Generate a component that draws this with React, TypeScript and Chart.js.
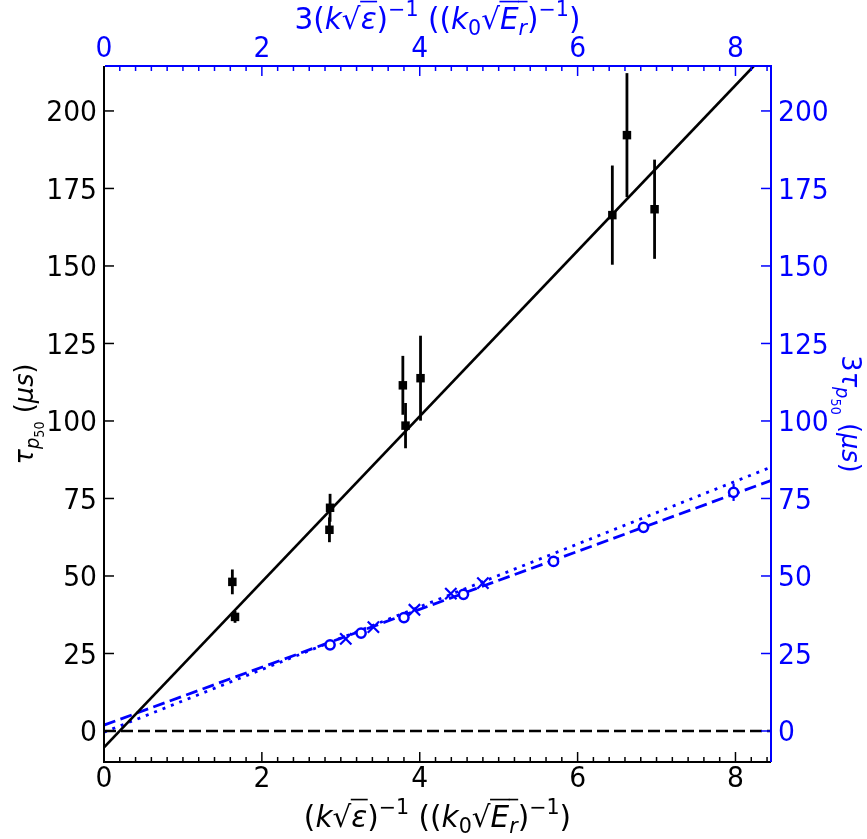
import React, { useEffect, useRef } from "react";
import { Chart, registerables } from "chart.js";

Chart.register(...registerables);

// ---- axis ranges & ticks ----
const X_MIN = 0;
const X_MAX = 8.45;
const Y_MIN = -10;
const Y_MAX = 214.5;
const xTicks = [0, 2, 4, 6, 8];
const xTickLabels = ["0", "2", "4", "6", "8"];
const xMinorStep = 0.2;
const yTicks = [0, 25, 50, 75, 100, 125, 150, 175, 200];
const yTickLabels = ["0", "25", "50", "75", "100", "125", "150", "175", "200"];

// ---- black data (bottom / left axes) ----
const blackX = [1.626, 1.66, 2.864, 2.856, 3.786, 3.82, 4.01, 6.44, 6.625, 6.975];
const blackY = [48.1, 36.8, 72.0, 64.9, 111.5, 98.5, 113.8, 166.4, 192.2, 168.3];
const blackErr = [4.0, 1.9, 4.5, 4.0, 9.5, 7.3, 13.7, 16.0, 20.0, 16.0];

// ---- blue data (top / right axes) ----
const circX = [2.864, 3.257, 3.8, 4.554, 5.695, 6.835, 7.976];
const circY = [27.8, 31.6, 36.6, 44.1, 54.7, 65.7, 77.0];
const circErr = [1.2, 1.0, 1.2, 1.2, 1.2, 1.2, 2.8];
const crossX = [3.063, 3.413, 3.933, 4.394, 4.8];
const crossY = [29.7, 33.5, 39.1, 44.3, 47.7];

// ---- fitted lines (end points) ----
const fitX = [0, 8.45];
const blackFitY = [-5.3, 220.3];
const blueDashY = [1.9, 80.8];
const blueDotY = [-0.4, 85.1];
const zeroY = [0, 0];

const BLUE = "#0000ff";
const FONT = '"DejaVu Sans", "Liberation Sans", sans-serif';
const TICK_SIZE = 28;
const TICK_SX = 0.95;
const TITLE_X_SIZE = 29.5;
const TITLE_X_SX = 1.0;
const TITLE_Y_SIZE = 27;
const TITLE_Y_SX = 0.95;

type Seg = { t: string; it?: boolean; s?: number; dy?: number; ol?: boolean };

const bottomTitle: Seg[] = [
  { t: "(" },
  { t: "k", it: true },
  { t: "√" },
  { t: "ε", it: true, ol: true },
  { t: ")" },
  { t: "−1", s: 0.7, dy: 0.45 },
  { t: " ((" },
  { t: "k", it: true },
  { t: "0", s: 0.7, dy: -0.2 },
  { t: "√" },
  { t: "E", it: true, ol: true },
  { t: "r", it: true, s: 0.7, dy: -0.2, ol: true },
  { t: ")" },
  { t: "−1", s: 0.7, dy: 0.45 },
  { t: ")" },
];
const topTitle: Seg[] = [{ t: "3" }, ...bottomTitle];
const leftTitle: Seg[] = [
  { t: "τ", it: true },
  { t: "p", it: true, s: 0.7, dy: -0.22 },
  { t: "50", s: 0.5, dy: -0.42 },
  { t: " (" },
  { t: "μs", it: true },
  { t: ")" },
];
const rightTitle: Seg[] = [{ t: "3" }, ...leftTitle];

function segFont(s: Seg, base: number) {
  const size = base * (s.s ?? 1);
  return `${s.it ? "italic " : ""}${size}px ${FONT}`;
}

function drawRich(
  ctx: CanvasRenderingContext2D,
  segs: Seg[],
  base: number,
  sxScale: number,
  cx: number,
  cy: number,
  angle: number,
  color: string
) {
  ctx.save();
  ctx.translate(cx, cy);
  ctx.rotate(angle);
  ctx.scale(sxScale, 1);
  ctx.textAlign = "left";
  ctx.textBaseline = "alphabetic";
  ctx.fillStyle = color;
  ctx.strokeStyle = color;
  let total = 0;
  const widths = segs.map((s) => {
    ctx.font = segFont(s, base);
    const w = ctx.measureText(s.t).width;
    total += w;
    return w;
  });
  let x = -total / 2;
  segs.forEach((s, i) => {
    ctx.font = segFont(s, base);
    const y = -(s.dy ?? 0) * base;
    ctx.fillText(s.t, x, y);
    if (s.ol) {
      ctx.lineWidth = base * 0.055;
      ctx.beginPath();
      ctx.moveTo(x - 0.5, -base * 0.93);
      ctx.lineTo(x + widths[i] + 0.5, -base * 0.93);
      ctx.stroke();
    }
    x += widths[i];
  });
  ctx.restore();
}

function drawLabel(
  ctx: CanvasRenderingContext2D,
  t: string,
  x: number,
  y: number,
  align: CanvasTextAlign,
  color: string
) {
  ctx.save();
  ctx.translate(x, y);
  ctx.scale(TICK_SX, 1);
  ctx.font = `${TICK_SIZE}px ${FONT}`;
  ctx.textAlign = align;
  ctx.textBaseline = "alphabetic";
  ctx.fillStyle = color;
  ctx.fillText(t, 0, 0);
  ctx.restore();
}

const decorPlugin = {
  id: "decor",
  beforeDatasetsDraw(chart: any) {
    const ctx: CanvasRenderingContext2D = chart.ctx;
    const a = chart.chartArea;
    const sx = chart.scales.x;
    const sy = chart.scales.y;
    const sx2 = chart.scales.x2;
    const sy2 = chart.scales.y2;
    ctx.save();
    ctx.beginPath();
    ctx.rect(a.left, a.top, a.right - a.left, a.bottom - a.top);
    ctx.clip();
    ctx.lineCap = "butt";
    ctx.strokeStyle = "#000";
    ctx.lineWidth = 2.8;
    blackX.forEach((xv, i) => {
      const px = sx.getPixelForValue(xv);
      ctx.beginPath();
      ctx.moveTo(px, sy.getPixelForValue(blackY[i] - blackErr[i]));
      ctx.lineTo(px, sy.getPixelForValue(blackY[i] + blackErr[i]));
      ctx.stroke();
    });
    ctx.strokeStyle = BLUE;
    ctx.lineWidth = 2.2;
    circX.forEach((xv, i) => {
      const px = sx2.getPixelForValue(xv);
      ctx.beginPath();
      ctx.moveTo(px, sy2.getPixelForValue(circY[i] - circErr[i]));
      ctx.lineTo(px, sy2.getPixelForValue(circY[i] + circErr[i]));
      ctx.stroke();
    });
    ctx.restore();
  },
  afterDraw(chart: any) {
    const ctx: CanvasRenderingContext2D = chart.ctx;
    const a = chart.chartArea;
    const sx = chart.scales.x;
    const sy = chart.scales.y;
    const sx2 = chart.scales.x2;
    const sy2 = chart.scales.y2;
    ctx.save();
    // ticks (inward)
    ctx.lineWidth = 1.5;
    for (let v = X_MIN; v <= X_MAX + 1e-9; v += xMinorStep) {
      const vv = Math.round(v * 10) / 10;
      const major = xTicks.includes(vv);
      const len = major ? 10 : 5;
      const px = sx.getPixelForValue(vv);
      ctx.strokeStyle = "#000";
      ctx.beginPath();
      ctx.moveTo(px, a.bottom);
      ctx.lineTo(px, a.bottom - len);
      ctx.stroke();
      ctx.strokeStyle = BLUE;
      ctx.beginPath();
      ctx.moveTo(px, a.top);
      ctx.lineTo(px, a.top + len);
      ctx.stroke();
    }
    yTicks.forEach((v) => {
      const py = sy.getPixelForValue(v);
      ctx.strokeStyle = "#000";
      ctx.beginPath();
      ctx.moveTo(a.left, py);
      ctx.lineTo(a.left + 10, py);
      ctx.stroke();
      ctx.strokeStyle = BLUE;
      ctx.beginPath();
      ctx.moveTo(a.right, py);
      ctx.lineTo(a.right - 10, py);
      ctx.stroke();
    });
    // spines
    ctx.lineWidth = 2;
    ctx.strokeStyle = "#000";
    ctx.beginPath();
    ctx.moveTo(a.left, a.top);
    ctx.lineTo(a.left, a.bottom);
    ctx.lineTo(a.right, a.bottom);
    ctx.stroke();
    ctx.strokeStyle = BLUE;
    ctx.beginPath();
    ctx.moveTo(a.left + 1, a.top);
    ctx.lineTo(a.right, a.top);
    ctx.lineTo(a.right, a.bottom);
    ctx.stroke();
    ctx.restore();
    // tick labels
    const half = TICK_SIZE * 0.729 * 0.5;
    xTicks.forEach((v, i) => {
      drawLabel(ctx, xTickLabels[i], sx.getPixelForValue(v), a.bottom + 25, "center", "#000");
      drawLabel(ctx, xTickLabels[i], sx2.getPixelForValue(v), a.top - 9, "center", BLUE);
    });
    yTicks.forEach((v, i) => {
      drawLabel(ctx, yTickLabels[i], a.left - 7, sy.getPixelForValue(v) + half, "right", "#000");
      drawLabel(ctx, yTickLabels[i], a.right + 7, sy2.getPixelForValue(v) + half, "left", BLUE);
    });
    // titles
    const cx = (a.left + a.right) / 2;
    const cy = (a.top + a.bottom) / 2;
    drawRich(ctx, bottomTitle, TITLE_X_SIZE, TITLE_X_SX, cx, 827, 0, "#000");
    drawRich(ctx, topTitle, TITLE_X_SIZE, TITLE_X_SX, cx, 29, 0, BLUE);
    drawRich(ctx, leftTitle, TITLE_Y_SIZE, TITLE_Y_SX, 33, cy, -Math.PI / 2, "#000");
    drawRich(ctx, rightTitle, TITLE_Y_SIZE, TITLE_Y_SX, 842, cy, Math.PI / 2, BLUE);
  },
};

function pts(xs: number[], ys: number[]) {
  return xs.map((x, i) => ({ x, y: ys[i] }));
}

function axis(position: string, min: number, max: number, ticks: number[], size: { w?: number; h?: number }) {
  return {
    type: "linear",
    position,
    min,
    max,
    grid: { display: false, drawTicks: false },
    border: { display: false },
    ticks: { display: false },
    afterBuildTicks: (s: any) => {
      s.ticks = ticks.map((v) => ({ value: v }));
    },
    afterFit: (s: any) => {
      if (size.w !== undefined) s.width = size.w;
      if (size.h !== undefined) s.height = size.h;
    },
  };
}

export default function App() {
  const ref = useRef<HTMLCanvasElement>(null);
  useEffect(() => {
    document.body.style.margin = "0";
    const canvas = ref.current!;
    const chart = new Chart(canvas, {
      type: "scatter",
      data: {
        datasets: [
          {
            label: "black",
            data: pts(blackX, blackY),
            xAxisID: "x",
            yAxisID: "y",
            pointStyle: "rect",
            pointRadius: 6,
            backgroundColor: "#000",
            borderColor: "#000",
            borderWidth: 0,
            order: 1,
          },
          {
            label: "circ",
            data: pts(circX, circY),
            xAxisID: "x2",
            yAxisID: "y2",
            pointStyle: "circle",
            pointRadius: 4.6,
            backgroundColor: "#fff",
            borderColor: BLUE,
            borderWidth: 2.5,
            order: 1,
          },
          {
            label: "cross",
            data: pts(crossX, crossY),
            xAxisID: "x2",
            yAxisID: "y2",
            pointStyle: "crossRot",
            pointRadius: 8,
            borderColor: BLUE,
            borderWidth: 2.2,
            order: 1,
          },
          {
            label: "fit",
            data: pts(fitX, blackFitY),
            xAxisID: "x",
            yAxisID: "y",
            showLine: true,
            pointRadius: 0,
            borderColor: "#000",
            borderWidth: 2.7,
            order: 2,
          },
          {
            label: "zero",
            data: pts(fitX, zeroY),
            xAxisID: "x",
            yAxisID: "y",
            showLine: true,
            pointRadius: 0,
            borderColor: "#000",
            borderWidth: 2.7,
            borderDash: [12, 5],
            order: 2,
          },
          {
            label: "dash",
            data: pts(fitX, blueDashY),
            xAxisID: "x2",
            yAxisID: "y2",
            showLine: true,
            pointRadius: 0,
            borderColor: BLUE,
            borderWidth: 2.8,
            borderDash: [12, 5.5],
            order: 2,
          },
          {
            label: "dot",
            data: pts(fitX, blueDotY),
            xAxisID: "x2",
            yAxisID: "y2",
            showLine: true,
            pointRadius: 0,
            borderColor: BLUE,
            borderWidth: 2.8,
            borderDash: [3, 6],
            order: 2,
          },
        ],
      },
      options: {
        animation: false,
        responsive: false,
        devicePixelRatio: 1,
        layout: { padding: 0 },
        plugins: { legend: { display: false }, tooltip: { enabled: false } },
        scales: {
          x: axis("bottom", X_MIN, X_MAX, xTicks, { h: 77 }),
          x2: axis("top", X_MIN, X_MAX, xTicks, { h: 66 }),
          y: axis("left", Y_MIN, Y_MAX, yTicks, { w: 104 }),
          y2: axis("right", Y_MIN, Y_MAX, yTicks, { w: 96 }),
        },
      },
      plugins: [decorPlugin],
    } as any);
    return () => chart.destroy();
  }, []);
  return (
    <div style={{ width: 867, height: 839, position: "relative", background: "#fff" }}>
      <canvas ref={ref} width={867} height={839} style={{ display: "block" }} />
    </div>
  );
}
